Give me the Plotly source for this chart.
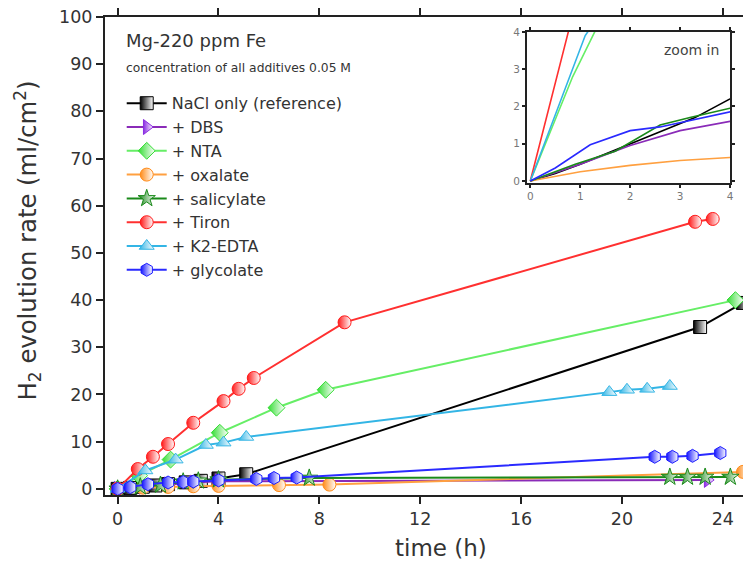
import plotly.graph_objects as go

names = ["NaCl only (reference)", "+ DBS", "+ NTA", "+ oxalate", "+ salicylate",
         "+ Tiron", "+ K2-EDTA", "+ glycolate"]

nacl_x = [0, 0.5, 1.0, 1.5, 2.0, 2.7, 3.3, 4.0, 5.1, 23.1, 24.8]
nacl_y = [0, 0.2, 0.45, 0.72, 1.0, 1.38, 1.7, 2.2, 3.1, 34.3, 39.4]
dbs_x = [0, 1.0, 2.0, 3.0, 4.0, 23.4]
dbs_y = [0, 0.45, 0.95, 1.35, 1.6, 1.9]
nta_x = [0, 0.85, 2.1, 4.05, 6.3, 8.25, 24.5]
nta_y = [0, 2.8, 6.2, 11.9, 17.2, 21.0, 40.0]
oxa_x = [0, 1.0, 2.0, 3.0, 4.0, 6.4, 8.4, 24.8]
oxa_y = [0, 0.25, 0.42, 0.55, 0.63, 0.8, 0.9, 3.6]
sal_x = [0, 0.9, 1.7, 2.6, 3.2, 4.0, 7.6, 21.9, 22.6, 23.3, 24.3]
sal_y = [0, 0.45, 0.8, 1.5, 1.7, 1.95, 2.3, 2.5, 2.5, 2.5, 2.5]
tir_x = [0, 0.8, 1.4, 2.0, 3.0, 4.2, 4.8, 5.4, 9.0, 22.9, 23.6]
tir_y = [0, 4.2, 6.8, 9.5, 14.0, 18.6, 21.2, 23.5, 35.3, 56.6, 57.2]
edta_x = [0, 1.1, 2.3, 3.5, 4.2, 5.1, 19.5, 20.2, 21.0, 21.9]
edta_y = [0, 3.9, 6.2, 9.3, 9.8, 11.0, 20.5, 21.0, 21.2, 21.8]
gly_x = [0, 0.5, 1.2, 2.0, 2.6, 3.0, 4.0, 5.5, 6.2, 7.1, 21.3, 22.0, 22.8, 23.9]
gly_y = [0, 0.35, 0.97, 1.35, 1.45, 1.55, 1.8, 2.1, 2.3, 2.4, 6.8, 6.8, 7.0, 7.6]

xs = [nacl_x, dbs_x, nta_x, oxa_x, sal_x, tir_x, edta_x, gly_x]
ys = [nacl_y, dbs_y, nta_y, oxa_y, sal_y, tir_y, edta_y, gly_y]
marker_colors = ["#000000", "#8a2be2", "#33dd33", "#ff8c1a", "#1a8a1a", "#ff1a1a", "#33b5e5", "#1a1aff"]
line_colors = ["#000000", "#8a2bb8", "#66ee66", "#ffa040", "#1a8a1a", "#ff3030", "#33b5e5", "#2a2aff"]
symbols = ["square", "triangle-right", "diamond", "circle", "star", "circle", "triangle-up", "hexagon"]
main_ticks = [0, 4, 8, 12, 16, 20, 24]

font = "DejaVu Sans, Arial, sans-serif"
fig = go.Figure()

for i in range(len(names)):
    c = marker_colors[i]
    fig.add_trace(go.Scatter(
        x=xs[i], y=ys[i], name=names[i], mode="lines+markers",
        line=dict(color=line_colors[i], width=2),
        marker=dict(symbol=symbols[i], size=13, color=c,
                    gradient=dict(type="horizontal", color="white"),
                    line=dict(color=c, width=1)),
        xaxis="x", yaxis="y", cliponaxis=True))

for i in range(len(names)):
    fig.add_trace(go.Scatter(
        x=xs[i], y=ys[i], mode="lines", showlegend=False,
        line=dict(color=line_colors[i], width=1.6),
        xaxis="x2", yaxis="y2"))

axis_common = dict(showline=True, linecolor="#222", linewidth=2, mirror="ticks",
                   ticks="outside", tickcolor="#222", showgrid=False, zeroline=False,
                   automargin=False, ticklabeloverflow="allow")

fig.update_layout(
    width=743, height=560,
    margin=dict(l=97, r=3, t=9, b=73),
    paper_bgcolor="white", plot_bgcolor="white",
    font=dict(family=font, color="#333"),
    xaxis=dict(range=[-0.5, 25.0], tickvals=main_ticks, ticklen=7, tickwidth=2,
               tickfont=dict(size=17.5, color="#333"),
               domain=[0, 1], **axis_common),
    yaxis=dict(range=[-1.3, 100], dtick=10, ticklen=7, tickwidth=2,
               tickfont=dict(size=17.5, color="#333"),
               domain=[0, 1], **axis_common),
    xaxis2=dict(range=[-0.07, 4.0], tickvals=[0, 1, 2, 3, 4], ticklen=3, tickwidth=1.5,
                tickfont=dict(size=10.5, color="#777"), domain=[0.656, 0.972],
                anchor="y2", **{**axis_common, "linewidth": 1.5}),
    yaxis2=dict(range=[-0.05, 4.0], tickvals=[0, 1, 2, 3, 4], ticklen=3, tickwidth=1.5,
                tickfont=dict(size=10.5, color="#777"), domain=[0.653, 0.969],
                anchor="x2", **{**axis_common, "linewidth": 1.5}),
    legend=dict(x=0.026, y=0.855, xanchor="left", yanchor="top",
                bgcolor="rgba(0,0,0,0)", font=dict(size=16, color="#333"),
                itemwidth=40, tracegroupgap=0),
    showlegend=True,
    annotations=[
        dict(text="H<sub>2</sub> evolution rate (ml/cm<sup>2</sup>)", textangle=-90,
             x=-0.121, y=0.533, xref="paper", yref="paper",
             xanchor="center", yanchor="middle", showarrow=False,
             font=dict(size=24.3, color="#333")),
        dict(text="time (h)", x=0.5225, y=-0.111, xref="paper", yref="paper",
             xanchor="center", yanchor="middle", showarrow=False,
             font=dict(size=23, color="#333")),
        dict(text="Mg-220 ppm Fe", x=0.03, y=0.95, xref="paper", yref="paper",
             xanchor="left", yanchor="middle", showarrow=False,
             font=dict(size=18, color="#333")),
        dict(text="concentration of all additives 0.05 M", x=0.03, y=0.893,
             xref="paper", yref="paper", xanchor="left", yanchor="middle",
             showarrow=False, font=dict(size=12.3, color="#333")),
        dict(text="zoom in", x=0.958, y=0.931, xref="paper", yref="paper",
             xanchor="right", yanchor="middle", showarrow=False,
             font=dict(size=14, color="#444")),
    ],
)

fig.write_html("out.html")
